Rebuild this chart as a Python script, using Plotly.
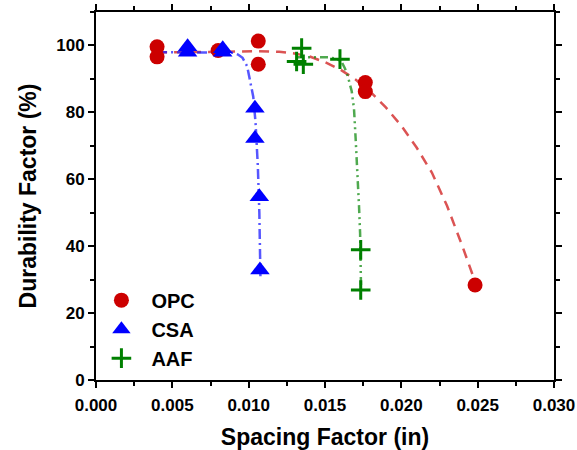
import plotly.graph_objects as go

# ---- measured data ----
opc_x = [0.0040, 0.0040, 0.0080, 0.01063, 0.01063, 0.01764, 0.01764, 0.02483]
opc_y = [99.6, 96.6, 98.5, 101.3, 94.4, 88.9, 86.2, 28.4]

csa_x = [0.0060, 0.0060, 0.0083, 0.0083, 0.01041, 0.01041, 0.0107, 0.01074]
csa_y = [99.6, 98.0, 99.0, 98.0, 81.2, 72.2, 54.8, 32.9]

aaf_x = [0.01347, 0.01314, 0.01358, 0.01598, 0.01734, 0.01734]
aaf_y = [99.2, 95.2, 94.4, 95.9, 38.9, 26.9]

# fitted trend curves
opc_fit_x = [0.0040, 0.0060, 0.0080, 0.0105, 0.0120, 0.0130, 0.0140, 0.0150, 0.0160, 0.0170,
             0.0180, 0.0190, 0.0200, 0.0210, 0.0220, 0.0230, 0.0240, 0.0249]
opc_fit_y = [97.9, 97.9, 98.1, 98.3, 98.1, 97.6, 96.7, 95.0, 92.8, 89.8,
             86.0, 81.4, 76.0, 69.5, 62.0, 52.0, 40.0, 28.5]

csa_fit_x = [0.0040, 0.0060, 0.0083, 0.0090, 0.0093, 0.0096, 0.0099, 0.0101, 0.0103,
             0.01045, 0.0106, 0.0107, 0.01077]
csa_fit_y = [98.0, 98.0, 98.0, 97.8, 97.3, 96.3, 93.8, 89.7, 84.7,
             77.0, 64.0, 50.0, 31.0]

aaf_fit_x = [0.0131, 0.0142, 0.0152, 0.0158, 0.0161, 0.0163, 0.0165, 0.01675, 0.0169,
             0.0170, 0.01714, 0.01723, 0.0173, 0.01736]
aaf_fit_y = [96.5, 96.6, 96.5, 96.0, 95.0, 93.2, 90.7, 86.3, 81.0,
             72.8, 61.8, 51.8, 43.8, 27.5]

x_ticks = [0.000, 0.005, 0.010, 0.015, 0.020, 0.025, 0.030]
x_labels = ["0.000", "0.005", "0.010", "0.015", "0.020", "0.025", "0.030"]
y_ticks = [0, 20, 40, 60, 80, 100]

RED = "#CC0000"
BLUE = "#0000FF"
GREEN = "#008000"
FONT = "Liberation Sans, Arial, sans-serif"

fig = go.Figure()

fig.add_trace(go.Scatter(x=opc_fit_x, y=opc_fit_y, mode="lines", showlegend=False,
                         line=dict(color="rgba(210,40,40,0.8)", width=2.5, dash="10px,7px")))
fig.add_trace(go.Scatter(x=csa_fit_x, y=csa_fit_y, mode="lines", showlegend=False,
                         line=dict(color="rgba(30,30,255,0.75)", width=2.5, dash="10px,4px,2px,4px")))
fig.add_trace(go.Scatter(x=aaf_fit_x, y=aaf_fit_y, mode="lines", showlegend=False,
                         line=dict(color="rgba(20,140,20,0.75)", width=2.5,
                                   dash="8px,4px,2px,4px,2px,4px")))

fig.add_trace(go.Scatter(x=opc_x, y=opc_y, mode="markers", name="OPC",
                         marker=dict(symbol="circle", size=15, color=RED)))
fig.add_trace(go.Scatter(x=csa_x, y=csa_y, mode="markers", name="CSA",
                         marker=dict(symbol="triangle-up", size=17, color=BLUE)))
fig.add_trace(go.Scatter(x=aaf_x, y=aaf_y, mode="markers", name="AAF",
                         marker=dict(symbol="cross-thin", size=14, color=GREEN,
                                     line=dict(color=GREEN, width=3))))

axis_common = dict(showline=True, linecolor="black", linewidth=2, mirror="ticks",
                   ticks="outside", ticklen=6, tickwidth=2, tickcolor="black",
                   showgrid=False, zeroline=False, automargin=False,
                   tickfont=dict(family=FONT, size=17, color="black", weight="bold"))

fig.update_xaxes(range=[0, 0.030], tickvals=x_ticks, ticktext=x_labels,
                 ticklabelstandoff=3,
                 minor=dict(ticks="outside", ticklen=4, tickwidth=2, tickcolor="black", dtick=0.0025),
                 title=dict(text="<b>Spacing Factor (in)</b>",
                            font=dict(family=FONT, size=23, color="black"), standoff=15),
                 **axis_common)
fig.update_yaxes(range=[0, 110], tickvals=y_ticks,
                 minor=dict(ticks="outside", ticklen=4, tickwidth=2, tickcolor="black", dtick=10),
                 title=dict(text="<b>Durability Factor (%)</b>",
                            font=dict(family=FONT, size=23, color="black"), standoff=13),
                 **axis_common)

fig.update_layout(
    width=577, height=450,
    margin=dict(l=96, r=23, t=12, b=70),
    paper_bgcolor="white", plot_bgcolor="white",
    showlegend=True,
    legend=dict(x=-0.01, y=0.27, xanchor="left", yanchor="top",
                bgcolor="rgba(0,0,0,0)", itemwidth=50, tracegroupgap=0,
                font=dict(family=FONT, size=20, color="black", weight="bold")),
)

fig.write_html("out.html")
